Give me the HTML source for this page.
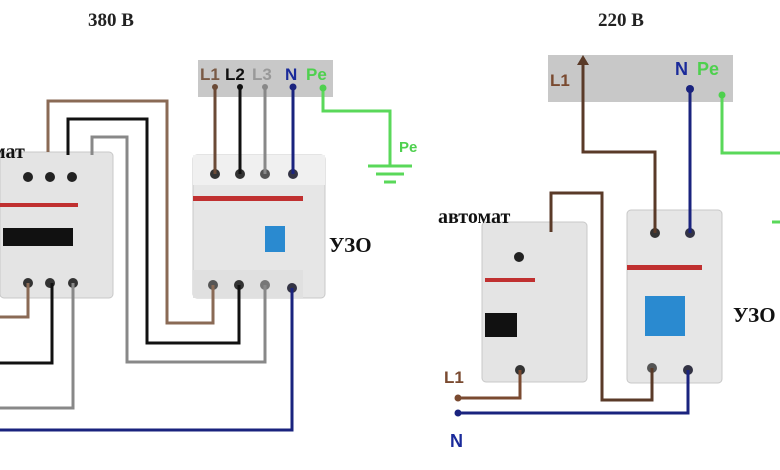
<!DOCTYPE html>
<html><head><meta charset="utf-8"><style>
body{margin:0;background:#fff;}
svg{display:block;}
.t{font-family:"Liberation Serif",serif;font-weight:bold;}
.s{font-family:"Liberation Sans",sans-serif;font-weight:bold;}
</style></head><body>
<svg width="780" height="470" viewBox="0 0 780 470" xmlns="http://www.w3.org/2000/svg">
<rect width="780" height="470" fill="#fff"/>
<text x="88" y="26" class="t" font-size="19" fill="#222">380 В</text>
<text x="598" y="26" class="t" font-size="19" fill="#222">220 В</text>

<!-- LEFT: terminal bar -->
<rect x="198" y="60" width="135" height="37" fill="#c8c8c8"/>
<text x="200" y="80" class="s" font-size="17" fill="#7a5a45">L1</text>
<text x="225" y="80" class="s" font-size="17" fill="#111">L2</text>
<text x="252" y="80" class="s" font-size="17" fill="#999">L3</text>
<text x="285" y="80" class="s" font-size="17" fill="#1a2a9a">N</text>
<text x="306" y="80" class="s" font-size="17" fill="#4ed04e">Pe</text>

<!-- RCD left -->
<rect x="193" y="155" width="132" height="143" rx="4" fill="#e6e6e6" stroke="#c8c8c8"/>
<rect x="193" y="155" width="132" height="30" fill="#f0f0f0"/>
<rect x="193" y="196" width="110" height="5" fill="#c03030"/>
<rect x="265" y="226" width="20" height="26" fill="#2a8ad0"/>
<rect x="193" y="270" width="110" height="28" fill="#e0e0e0"/>
<circle cx="215" cy="174" r="5" fill="#333"/><circle cx="240" cy="174" r="5" fill="#333"/>
<circle cx="265" cy="174" r="5" fill="#555"/><circle cx="293" cy="174" r="5" fill="#334"/>
<circle cx="213" cy="285" r="5" fill="#555"/><circle cx="239" cy="285" r="5" fill="#333"/>
<circle cx="265" cy="285" r="5" fill="#777"/><circle cx="292" cy="288" r="5" fill="#334"/>
<text x="329" y="252" class="t" font-size="21" fill="#111">УЗО</text>

<!-- Breaker left -->
<rect x="0" y="152" width="113" height="146" rx="4" fill="#e4e4e4" stroke="#c8c8c8"/>
<rect x="0" y="203" width="78" height="4" fill="#c03030"/>
<rect x="3" y="228" width="70" height="18" fill="#111"/>
<circle cx="28" cy="177" r="5" fill="#222"/><circle cx="50" cy="177" r="5" fill="#222"/><circle cx="72" cy="177" r="5" fill="#222"/>
<circle cx="28" cy="283" r="5" fill="#333"/><circle cx="50" cy="283" r="5" fill="#333"/><circle cx="73" cy="283" r="5" fill="#333"/>
<text x="-8" y="158" class="t" font-size="20" fill="#111">мат</text>

<!-- Left wires -->
<g fill="none" stroke-width="3">
<path d="M215 88V174M240 88V174M265 88V174" stroke="#6b4a36"/>
<path d="M240 88V174" stroke="#111"/>
<path d="M265 88V174" stroke="#888"/>
<path d="M293 88V174" stroke="#1a237e"/>
<path d="M48 152V101H167V323H213V285" stroke="#8a6a55"/>
<path d="M68 155V119H147V343H239V285" stroke="#111"/>
<path d="M92 155V137H127V362H265V285" stroke="#888"/>
<path d="M292 288V430H0" stroke="#1a237e"/>
<path d="M28 283V317H0" stroke="#8a6a55"/>
<path d="M52 283V363H0" stroke="#111"/>
<path d="M73 283V408H0" stroke="#888"/>
<path d="M323 88V111H390V165" stroke="#5ad85a"/>
<path d="M368 166H412M376 174H404M384 182H396" stroke="#5ad85a"/>
</g>
<circle cx="215" cy="87" r="3" fill="#6b4a36"/><circle cx="240" cy="87" r="3" fill="#111"/>
<circle cx="265" cy="87" r="3" fill="#888"/><circle cx="293" cy="87" r="3.5" fill="#1a237e"/>
<circle cx="323" cy="88" r="3.5" fill="#4ed04e"/>
<text x="399" y="152" class="s" font-size="15" fill="#4ed04e">Pe</text>

<!-- RIGHT: terminal bar -->
<rect x="548" y="55" width="185" height="47" fill="#c8c8c8"/>
<text x="550" y="86" class="s" font-size="17" fill="#7a4a30">L1</text>
<text x="675" y="75" class="s" font-size="18" fill="#1a2a9a">N</text>
<text x="697" y="75" class="s" font-size="18" fill="#4ed04e">Pe</text>

<!-- Breaker right -->
<rect x="482" y="222" width="105" height="160" rx="4" fill="#e4e4e4" stroke="#c8c8c8"/>
<rect x="485" y="278" width="50" height="4" fill="#c03030"/>
<rect x="485" y="313" width="32" height="24" fill="#111"/>
<circle cx="519" cy="257" r="5" fill="#222"/>
<circle cx="520" cy="370" r="5" fill="#333"/>
<text x="438" y="223" class="t" font-size="20" fill="#111">автомат</text>

<!-- RCD right -->
<rect x="627" y="210" width="95" height="173" rx="4" fill="#e6e6e6" stroke="#c8c8c8"/>
<rect x="627" y="265" width="75" height="5" fill="#c03030"/>
<rect x="645" y="296" width="40" height="40" fill="#2a8ad0"/>
<circle cx="655" cy="233" r="5" fill="#333"/><circle cx="690" cy="233" r="5" fill="#334"/>
<circle cx="652" cy="368" r="5" fill="#555"/><circle cx="688" cy="370" r="5" fill="#334"/>
<text x="733" y="322" class="t" font-size="21" fill="#111">УЗО</text>

<g fill="none" stroke-width="3">
<path d="M583 62V152H655V233" stroke="#5a3a28"/>
<path d="M690 89V233" stroke="#1a237e"/>
<path d="M722 95V153H780" stroke="#5ad85a"/>
<path d="M551 232V193H602V400H652V368" stroke="#5a3a28"/>
<path d="M458 398H520V370" stroke="#7a4a30"/>
<path d="M458 413H688V370" stroke="#1a237e"/>
</g>
<path d="M577 65L583 55L589 65Z" fill="#5a3a28"/>
<circle cx="690" cy="89" r="4" fill="#1a237e"/><circle cx="722" cy="95" r="3.5" fill="#4ed04e"/>
<circle cx="458" cy="398" r="3.5" fill="#7a4a30"/><circle cx="458" cy="413" r="3.5" fill="#1a237e"/>
<text x="444" y="383" class="s" font-size="17" fill="#7a4a30">L1</text>
<text x="450" y="447" class="s" font-size="18" fill="#1a2a9a">N</text>
<path d="M772 222H780" stroke="#5ad85a" stroke-width="3"/>
</svg>
</body></html>
